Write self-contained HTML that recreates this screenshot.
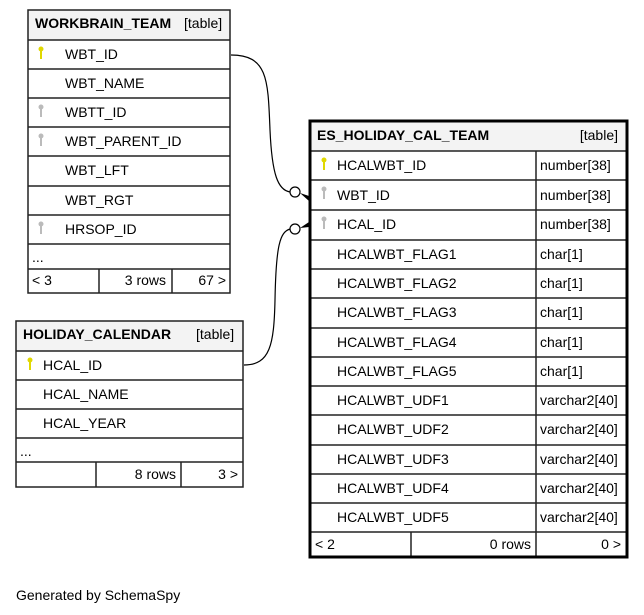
<!DOCTYPE html>
<html><head><meta charset="utf-8"><style>
html,body{margin:0;padding:0;background:#fff;width:644px;height:615px;overflow:hidden}
svg{display:block}
text{font-family:"Liberation Sans",Arial,sans-serif;font-size:14px;fill:#000}
.b{font-weight:bold}
</style></head><body>
<svg width="644" height="615" viewBox="0 0 644 615" xmlns="http://www.w3.org/2000/svg">
<defs>
<g id="ky"><circle cx="0" cy="0" r="2.5" fill="#e0d800"/><rect x="-1" y="0" width="2" height="10" fill="#e0d800"/></g>
<g id="kg"><circle cx="0" cy="0" r="2.5" fill="#bbb"/><rect x="-1" y="0" width="2" height="10" fill="#bbb"/></g>
</defs>

<!-- connectors -->
<path d="M231,55 C268,55 268,80 270,130 C272,175 278,190 290,192" fill="none" stroke="#000" stroke-width="1.2"/>
<circle cx="295" cy="192" r="5" fill="#fff" stroke="#000" stroke-width="1.2"/>
<polygon points="300,193 309,196 309,201" fill="#000"/>
<path d="M244,365 C270,365 274,345 275,300 C276,245 280,232 290,229" fill="none" stroke="#000" stroke-width="1.2"/>
<circle cx="295" cy="229" r="5" fill="#fff" stroke="#000" stroke-width="1.2"/>
<polygon points="300,228 309,222 309,227" fill="#000"/>

<!-- WORKBRAIN_TEAM -->
<rect x="28" y="10" width="202" height="30" fill="#f3f3f3"/>
<rect x="28" y="10" width="202" height="283" fill="none" stroke="#222" stroke-width="1.5"/>
<text x="35" y="28" class="b">WORKBRAIN_TEAM</text><text x="184" y="28">[table]</text>
<g stroke="#222" stroke-width="1.5">
<line x1="28" y1="40" x2="230" y2="40"/><line x1="28" y1="69" x2="230" y2="69"/><line x1="28" y1="98" x2="230" y2="98"/>
<line x1="28" y1="127" x2="230" y2="127"/><line x1="28" y1="156" x2="230" y2="156"/><line x1="28" y1="186" x2="230" y2="186"/>
<line x1="28" y1="215" x2="230" y2="215"/><line x1="28" y1="244" x2="230" y2="244"/><line x1="28" y1="269" x2="230" y2="269"/>
<line x1="99" y1="269" x2="99" y2="293"/><line x1="172" y1="269" x2="172" y2="293"/>
</g>
<use href="#ky" x="41" y="49"/><use href="#kg" x="41" y="107"/><use href="#kg" x="41" y="136"/><use href="#kg" x="41" y="224"/>
<text x="65" y="59">WBT_ID</text><text x="65" y="88">WBT_NAME</text><text x="65" y="117">WBTT_ID</text>
<text x="65" y="146">WBT_PARENT_ID</text><text x="65" y="175">WBT_LFT</text><text x="65" y="205">WBT_RGT</text>
<text x="65" y="234">HRSOP_ID</text><text x="32" y="262">...</text>
<text x="32" y="285">&lt; 3</text><text x="166" y="285" text-anchor="end">3 rows</text><text x="226" y="285" text-anchor="end">67 &gt;</text>

<!-- HOLIDAY_CALENDAR -->
<rect x="16" y="321" width="227" height="30" fill="#f3f3f3"/>
<rect x="16" y="321" width="227" height="166" fill="none" stroke="#222" stroke-width="1.5"/>
<text x="23" y="339" class="b">HOLIDAY_CALENDAR</text><text x="196" y="339">[table]</text>
<g stroke="#222" stroke-width="1.5">
<line x1="16" y1="351" x2="243" y2="351"/><line x1="16" y1="380" x2="243" y2="380"/><line x1="16" y1="409" x2="243" y2="409"/>
<line x1="16" y1="438" x2="243" y2="438"/><line x1="16" y1="462" x2="243" y2="462"/>
<line x1="96" y1="462" x2="96" y2="487"/><line x1="181" y1="462" x2="181" y2="487"/>
</g>
<use href="#ky" x="30" y="360"/>
<text x="43" y="370">HCAL_ID</text><text x="43" y="399">HCAL_NAME</text><text x="43" y="428">HCAL_YEAR</text>
<text x="20" y="456">...</text>
<text x="176" y="479" text-anchor="end">8 rows</text><text x="238" y="479" text-anchor="end">3 &gt;</text>

<!-- ES_HOLIDAY_CAL_TEAM -->
<rect x="310" y="121" width="317" height="30" fill="#f3f3f3"/>
<text x="317" y="140" class="b">ES_HOLIDAY_CAL_TEAM</text><text x="618" y="140" text-anchor="end">[table]</text>
<g stroke="#222" stroke-width="1.5">
<line x1="310" y1="151" x2="627" y2="151"/><line x1="310" y1="180" x2="627" y2="180"/><line x1="310" y1="210" x2="627" y2="210"/>
<line x1="310" y1="240" x2="627" y2="240"/><line x1="310" y1="269" x2="627" y2="269"/><line x1="310" y1="298" x2="627" y2="298"/>
<line x1="310" y1="328" x2="627" y2="328"/><line x1="310" y1="357" x2="627" y2="357"/><line x1="310" y1="386" x2="627" y2="386"/>
<line x1="310" y1="415" x2="627" y2="415"/><line x1="310" y1="445" x2="627" y2="445"/><line x1="310" y1="474" x2="627" y2="474"/>
<line x1="310" y1="503" x2="627" y2="503"/><line x1="310" y1="532" x2="627" y2="532"/>
<line x1="536" y1="151" x2="536" y2="532"/><line x1="411" y1="532" x2="411" y2="557"/><line x1="536" y1="532" x2="536" y2="557"/>
</g>
<rect x="310" y="121" width="317" height="436" fill="none" stroke="#000" stroke-width="3"/>
<use href="#ky" x="324" y="160"/><use href="#kg" x="324" y="189"/><use href="#kg" x="324" y="219"/>
<g>
<text x="337" y="170">HCALWBT_ID</text><text x="540" y="170">number[38]</text>
<text x="337" y="200">WBT_ID</text><text x="540" y="200">number[38]</text>
<text x="337" y="229">HCAL_ID</text><text x="540" y="229">number[38]</text>
<text x="337" y="259">HCALWBT_FLAG1</text><text x="540" y="259">char[1]</text>
<text x="337" y="288">HCALWBT_FLAG2</text><text x="540" y="288">char[1]</text>
<text x="337" y="317">HCALWBT_FLAG3</text><text x="540" y="317">char[1]</text>
<text x="337" y="347">HCALWBT_FLAG4</text><text x="540" y="347">char[1]</text>
<text x="337" y="376">HCALWBT_FLAG5</text><text x="540" y="376">char[1]</text>
<text x="337" y="405">HCALWBT_UDF1</text><text x="540" y="405">varchar2[40]</text>
<text x="337" y="434">HCALWBT_UDF2</text><text x="540" y="434">varchar2[40]</text>
<text x="337" y="464">HCALWBT_UDF3</text><text x="540" y="464">varchar2[40]</text>
<text x="337" y="493">HCALWBT_UDF4</text><text x="540" y="493">varchar2[40]</text>
<text x="337" y="522">HCALWBT_UDF5</text><text x="540" y="522">varchar2[40]</text>
</g>
<text x="315" y="549">&lt; 2</text><text x="531" y="549" text-anchor="end">0 rows</text><text x="621" y="549" text-anchor="end">0 &gt;</text>

<text x="16" y="600">Generated by SchemaSpy</text>
</svg>
</body></html>
